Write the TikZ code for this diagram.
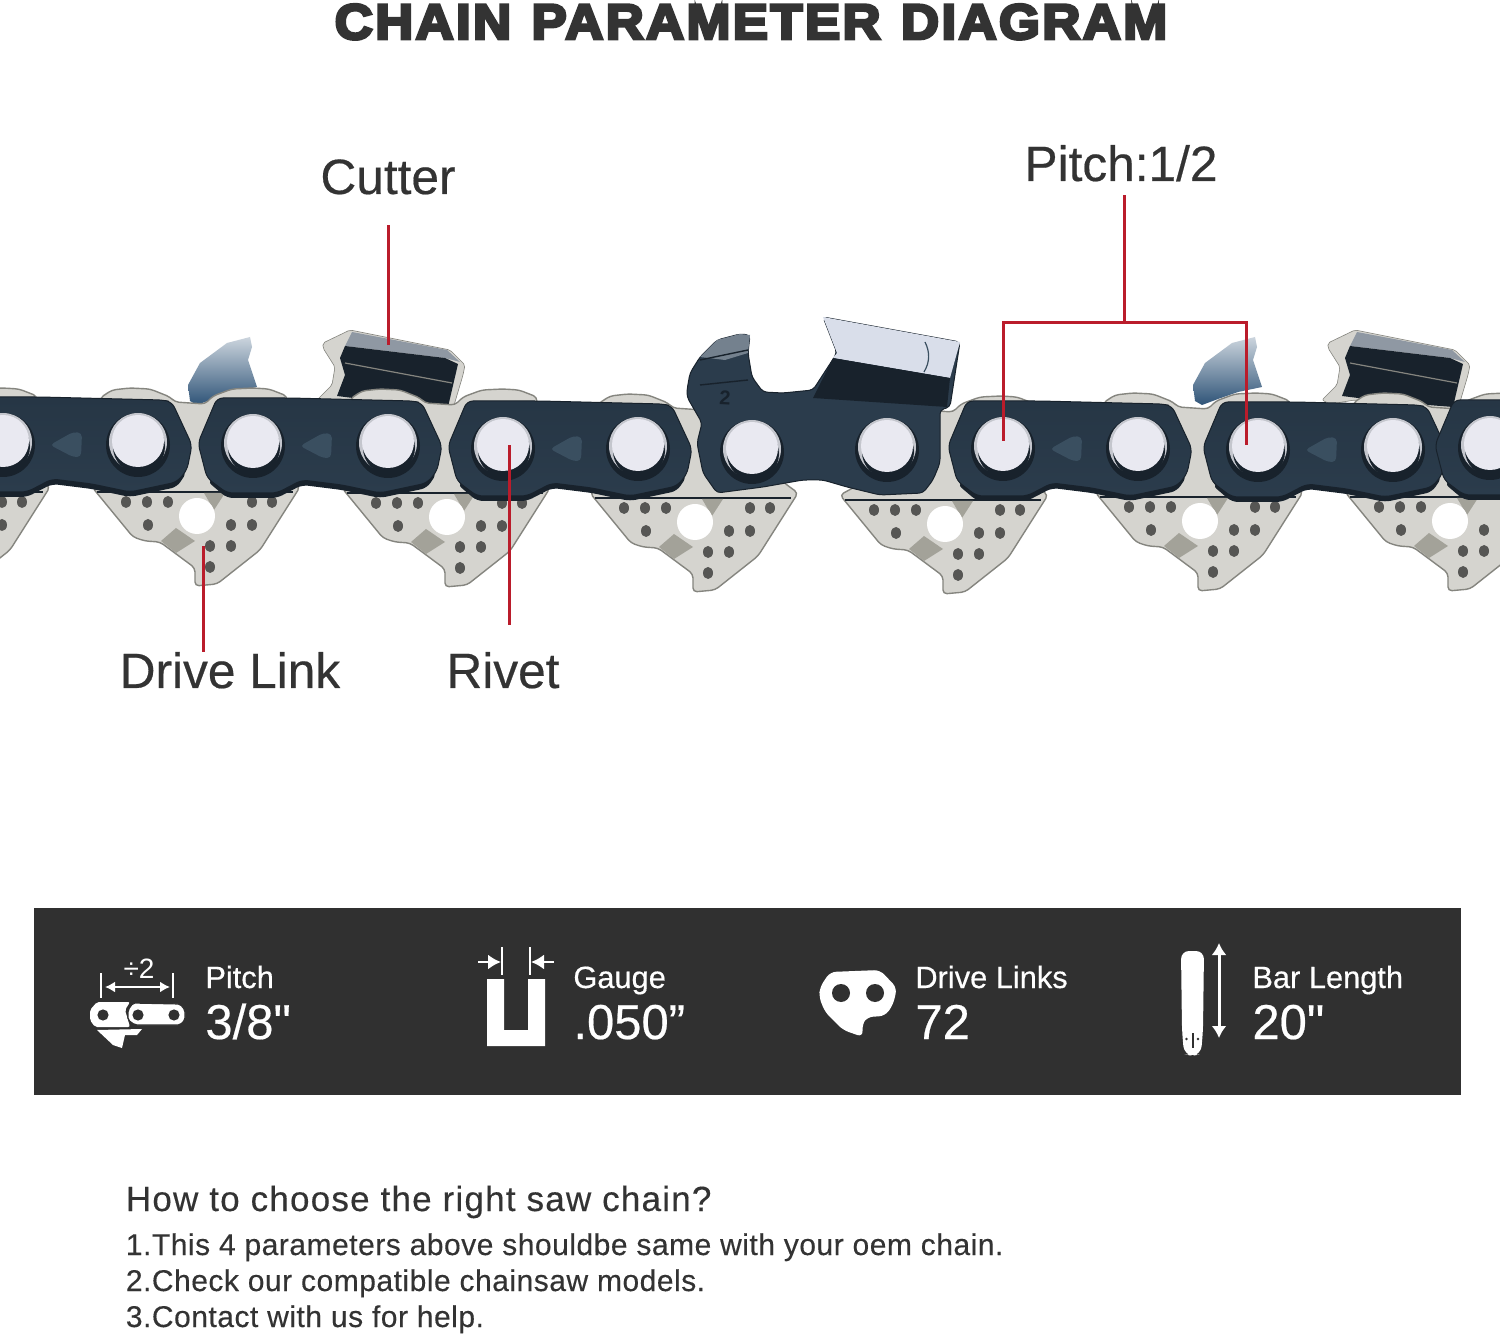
\documentclass[tikz,border=0pt]{standalone}
\usepackage{fontspec}
\setmainfont{Liberation Sans}
\newfontfamily\titlefont[FakeStretch=1.06,FakeBold=6,LetterSpace=5,WordSpace=1.2]{Liberation Sans Bold}
\newfontfamily\specfont[FakeBold=.4]{Liberation Sans}
\newfontfamily\headfont[FakeBold=.3,LetterSpace=3.5]{Liberation Sans}
\newfontfamily\bodyfont[FakeBold=.3,LetterSpace=1.7]{Liberation Sans}
\usetikzlibrary{arrows.meta}
\definecolor{ink}{HTML}{333333}
\definecolor{band}{HTML}{303030}
\definecolor{leader}{HTML}{BA1C2B}
\definecolor{steel}{HTML}{2B3C4C}
\definecolor{steel_top}{HTML}{263645}
\definecolor{steel_dark}{HTML}{18222C}
\definecolor{steel_mark}{HTML}{3A4F60}
\definecolor{silver}{HTML}{D5D4CF}
\definecolor{silver_edge}{HTML}{85857F}
\definecolor{silver_shade}{HTML}{A3A299}
\definecolor{dot}{HTML}{565654}
\definecolor{rivet}{HTML}{E9E9F1}
\definecolor{rivet_rim}{HTML}{C4C6CD}
\definecolor{plate}{HTML}{D9DEEA}
\definecolor{gauge_top}{HTML}{CCD5DE}
\definecolor{gauge_mid}{HTML}{44698F}
\definecolor{gauge_low}{HTML}{2F5478}
\definecolor{cutter_band}{HTML}{8F98A3}
\tikzstyle{red_leader}=[draw=leader, line width=1.5pt]
\tikzstyle{part_label}=[anchor=base, inner sep=0pt, text depth=0pt, text=ink, font=\specfont\fontsize{24.8}{28}\selectfont]
\tikzstyle{spec_name}=[anchor=base west, inner sep=0pt, text=white, font=\specfont\fontsize{15.4}{18}\selectfont]
\tikzstyle{spec_value}=[anchor=base west, inner sep=0pt, text=white, font=\specfont\fontsize{24.5}{28}\selectfont]
\tikzstyle{howto_head}=[anchor=base west, inner sep=0pt, text=ink, font=\headfont\fontsize{17.5}{20}\selectfont]
\tikzstyle{howto_line}=[anchor=base west, inner sep=0pt, text=ink, font=\bodyfont\fontsize{15}{18}\selectfont]
\tikzstyle{icon_line}=[draw=white, line width=1pt]
\tikzstyle{icon_arrow}=[draw=white, line width=1.1pt, {Latex[length=5pt,width=5.5pt]}-{Latex[length=5pt,width=5.5pt]}]
\tikzstyle{icon_tip}=[draw=white, line width=1.1pt, -{Latex[length=6.5pt,width=7.5pt]}]
% one drive link, placed by its hole
\newcommand{\drivelink}[2]{
  \begin{scope}[shift={(#1,#2)}]
    \draw[fill=silver, draw=silver_edge, line width=.7pt, rounded corners=2pt]
      (-105,-29) -- (-64,21) -- (-52,25) -- (-37,26) -- (-2,52) -- (-2,70) -- (20,68)
      -- (63,34) -- (103,-29) -- (88,-40) -- (90,-120) -- (72,-127) -- (56,-128) -- (35,-127)
      -- (16,-120) -- (8,-112) -- (-22,-114) -- (-27,-119) -- (-47,-127) -- (-67,-128)
      -- (-85,-126) -- (-97,-118) -- (-85,-40) -- cycle;
    \draw[steel_dark, line width=.6pt] (-100,-24) -- (96,-24);
    \fill[silver_shade] (-36,25) -- (-21,12) -- (-2,25) -- (-21,37) -- cycle;
    \fill[silver_shade] (7,-23) -- (28,-23) -- (17,-6) -- cycle;
    \fill[white] (0,0) circle (9pt);
    \foreach \dx/\dy in {-71/-14,-50/-14,-29/-14,-49/9,55/-14,75/-14,34/9,55/9,13/30,34/30,13/51}
      \fill[dot] (\dx,\dy) ellipse (2.5pt and 3pt);
  \end{scope}
}
% rivet head
\newcommand{\rivethead}[2]{
  \begin{scope}[shift={(#1,#2)}]
    \fill[steel_dark] (0,3) circle (16pt);
    \fill[rivet_rim] (0,0) circle (14.5pt);
    \fill[steel_dark] (1,5) circle (13pt);
    \fill[rivet] (0,-1) circle (13pt);
  \end{scope}
}
% plain side link, placed by its left rivet
\newcommand{\sidelink}[2]{
  \begin{scope}[shift={(#1,#2)}]
    \fill[steel_dark, rounded corners=3pt]
      (-46,38) -- (-26,55) -- (24,55) -- (49,42) -- (89,47) -- (127,55) -- (174,45) -- (184,30) -- (100,0) -- cycle;
    \shadedraw[top color=steel_top, bottom color=steel, draw=steel_dark, line width=.5pt, rounded corners=3pt]
      (-36,-45) -- (37,-45) -- (160,-42) -- (169,-40) -- (189,3) -- (184,28) -- (174,40) -- (127,50)
      -- (89,42) -- (49,37) -- (24,50) -- (-26,50) -- (-46,35) -- (-55,0) -- cycle;
    \fill[steel_mark, rounded corners=2pt] (47,3) -- (70,-10) -- (79,-9) -- (78,15) -- (70,15) -- cycle;
  \end{scope}
  \rivethead{#1}{#2}
  \rivethead{#1+135}{#2}
}
% gauge and flat cutter of a side link
\newcommand{\topcutter}[1]{
  \begin{scope}[shift={(#1,0)}]
    \shade[top color=gauge_top, middle color=gauge_mid, bottom color=gauge_low]
      (188,385) -- (200,363) -- (227,343) -- (250,337) -- (252,347) -- (248,360) -- (257,387)
      -- (233,392) -- (213,399) -- (197,405) -- (190,401) -- cycle;
    \draw[fill=silver, draw=silver_edge, line width=.3pt, rounded corners=1pt]
      (323,343) -- (350,330) -- (450,350) -- (465,365) -- (463,375) -- (452,412) -- (443,412)
      -- (413,405) -- (350,400) -- (325,404) -- (317,400) -- (332,385) -- (335,367) -- (323,348) -- cycle;
    \fill[cutter_band] (352,332) -- (447,350) -- (460,362) -- (445,358) -- (345,346) -- cycle;
    \fill[steel_dark] (345,346) -- (445,358) -- (458,364) -- (448,407) -- (385,402) -- (337,396) -- (345,375) -- (340,358) -- cycle;
    \draw[silver_edge, line width=.6pt] (345,363) -- (452,383);
  \end{scope}
}
\begin{document}
\begin{tikzpicture}[x=.5pt, y=-.5pt]
  \useasboundingbox (0,0) rectangle (1500,1336);
  \fill[white] (0,0) rectangle (1500,1336);

  \node[anchor=base, inner sep=0pt, text=ink, font=\titlefont\fontsize{24.8}{30}\selectfont] (title) at (751,39) {CHAIN PARAMETER DIAGRAM};

  % chain
  \begin{scope}
    \clip (0,300) rectangle (1500,600);
    \topcutter{0}
    \topcutter{1005}
    \foreach \hx/\hy in {-53/516,197/516,447/517,695/522,945/524,1200/521,1450/521}
      \drivelink{\hx}{\hy};
    \sidelink{3}{442}
    \sidelink{253}{443}
    \sidelink{503}{446}
    \sidelink{1003}{446}
    \sidelink{1258}{447}
    \sidelink{1490}{445}
    % link with the raised cutter
    \draw[fill=steel, draw=steel_dark, line width=.5pt, rounded corners=2pt]
      (687,390) -- (690,373) -- (700,357) -- (717,340) -- (740,334) -- (750,335) -- (748,353) -- (752,377)
      -- (763,392) -- (783,393) -- (813,390) -- (837,353) -- (823,317) -- (960,342) -- (950,407) -- (940,410)
      -- (940,463) -- (933,480) -- (923,493) -- (880,495) -- (847,487) -- (823,480) -- (803,480) -- (763,487)
      -- (717,493) -- (703,473) -- (697,443) -- (702,423) -- (687,397) -- cycle;
    \fill[plate] (823,317) -- (960,342) -- (950,378) -- (833,358) -- (837,353) -- cycle;
    \fill[steel_dark] (833,358) -- (950,378) -- (947,407) -- (813,398) -- cycle;
    \draw[steel_mark, line width=.6pt] (925,342) .. controls (930,352) and (930,362) .. (924,372);
    \fill[gauge_top!45!steel] (700,357) -- (717,340) -- (740,334) -- (750,335) -- (748,353) -- (725,360) -- cycle;
    \draw[steel_dark, line width=.7pt] (700,360) -- (748,350) (700,385) -- (748,380);
    \node[inner sep=0pt, text=steel_dark, font=\bfseries\fontsize{10}{12}\selectfont, rotate=-3] (cut_mark) at (725,398) {2};
    \rivethead{752}{449}
    \rivethead{887}{447}
  \end{scope}

  % part labels
  \node[part_label] (lbl_cutter) at (388,194) {Cutter};
  \node[part_label] (lbl_pitch) at (1121,181) {Pitch:1/2};
  \node[part_label] (lbl_drive) at (230,688) {Drive Link};
  \node[part_label] (lbl_rivet) at (503,688) {Rivet};
  \coordinate (pt_cutter) at (388,345);
  \coordinate (pt_fork) at (1124,323);
  \coordinate (pt_left) at (1003,441);
  \coordinate (pt_right) at (1246,445);
  \coordinate (pt_drive) at (203,546);
  \coordinate (pt_rivet) at (509,445);
  \draw[red_leader, shorten <=15.5pt] (lbl_cutter.south) -- (pt_cutter);
  \draw[red_leader, shorten <=7pt] (lbl_pitch.south -| pt_fork) -- (pt_fork);
  \draw[red_leader] (pt_left) |- (pt_fork) -| (pt_right);
  \draw[red_leader] (lbl_drive.north -| pt_drive) -- (pt_drive);
  \draw[red_leader, shorten <=13.5pt] (lbl_rivet.north -| pt_rivet) -- (pt_rivet);

  % spec band
  \fill[band] (34,908) rectangle (1461,1095);

  \node[spec_name] (name_pitch) at (205,988) {Pitch};
  \node[spec_value] (val_pitch) at (205,1039) {3/8"};
  \node[spec_name] (name_gauge) at (573,988) {Gauge};
  \node[spec_value] (val_gauge) at (573,1039) {.050”};
  \node[spec_name] (name_links) at (915,988) {Drive Links};
  \node[spec_value] (val_links) at (915,1039) {72};
  \node[spec_name] (name_bar) at (1252,988) {Bar Length};
  \node[spec_value] (val_bar) at (1252,1039) {20"};

  % pitch icon
  \coordinate (pi_a) at (101,973);
  \coordinate (pi_b) at (173,973);
  \draw[icon_line] (pi_a) -- ++(0,25);
  \draw[icon_line] (pi_b) -- ++(0,25);
  \draw[icon_arrow] (105,987) -- (170,987);
  \node[inner sep=0pt, text=white, font=\fontsize{14}{16}\selectfont] (pi_text) at (139,969) {÷2};
  \fill[white, rounded corners=1pt] (90,1010) -- (97,1002) -- (130,1002) -- (125,1010) -- (130,1027) -- (95,1027) -- (90,1020) -- cycle;
  \draw[fill=white, draw=band, line width=.6pt, rounded corners=1pt] (128,1010) -- (133,1003) -- (180,1004) -- (185,1010) -- (185,1020) -- (180,1025) -- (135,1025) -- (128,1020) -- cycle;
  \fill[white] (97,1030) -- (142,1029) -- (137,1035) -- (125,1035) -- (122,1048) -- (113,1045) -- cycle;
  \foreach \cx in {103,138,174}
    \fill[band] (\cx,1015) circle (2.8pt);

  % gauge icon
  \fill[white] (487,979) -- (504,979) -- (504,1030) -- (528,1030) -- (528,979) -- (545,979) -- (545,1046) -- (487,1046) -- cycle;
  \draw[icon_line, line width=1.3pt] (502,947) -- (502,975);
  \draw[icon_line, line width=1.3pt] (530,947) -- (530,975);
  \draw[icon_tip] (478,962) -- (501,962);
  \draw[icon_tip] (554,962) -- (531,962);

  % drive link icon
  \fill[white, rounded corners=3pt] (820,987) -- (830,972) -- (880,970) -- (897,988) -- (893,1005) -- (885,1016) -- (867,1017) -- (862,1025) -- (863,1037) -- (843,1030) -- (825,1012) -- (819,997) -- cycle;
  \fill[band] (841,993) circle (4.5pt);
  \fill[band] (875,993) circle (4.5pt);

  % bar icon
  \fill[white, rounded corners=4pt] (1181,951) -- (1204,951) -- (1203,1030) -- (1201,1054) -- (1192,1056) -- (1184,1054) -- (1182,1030) -- cycle;
  \fill[band] (1192,1033) rectangle (1194,1048);
  \fill[band] (1186.5,1039) circle (.7pt);
  \fill[band] (1198,1039) circle (.7pt);
  \draw[draw=white, line width=1.5pt, {Latex[length=6pt,width=7.5pt]}-{Latex[length=6pt,width=7.5pt]}] (1219,943) -- (1219,1038);

  % how to choose
  \node[howto_head] (howto) at (125.5,1211) {How to choose the right saw chain?};
  \node[howto_line] (howto_a) at (125.5,1255) {1.This 4 parameters above shouldbe same with your oem chain.};
  \node[howto_line] (howto_b) at (125.5,1291) {2.Check our compatible chainsaw models.};
  \node[howto_line] (howto_c) at (125.5,1327) {3.Contact with us for help.};
\end{tikzpicture}
\end{document}
